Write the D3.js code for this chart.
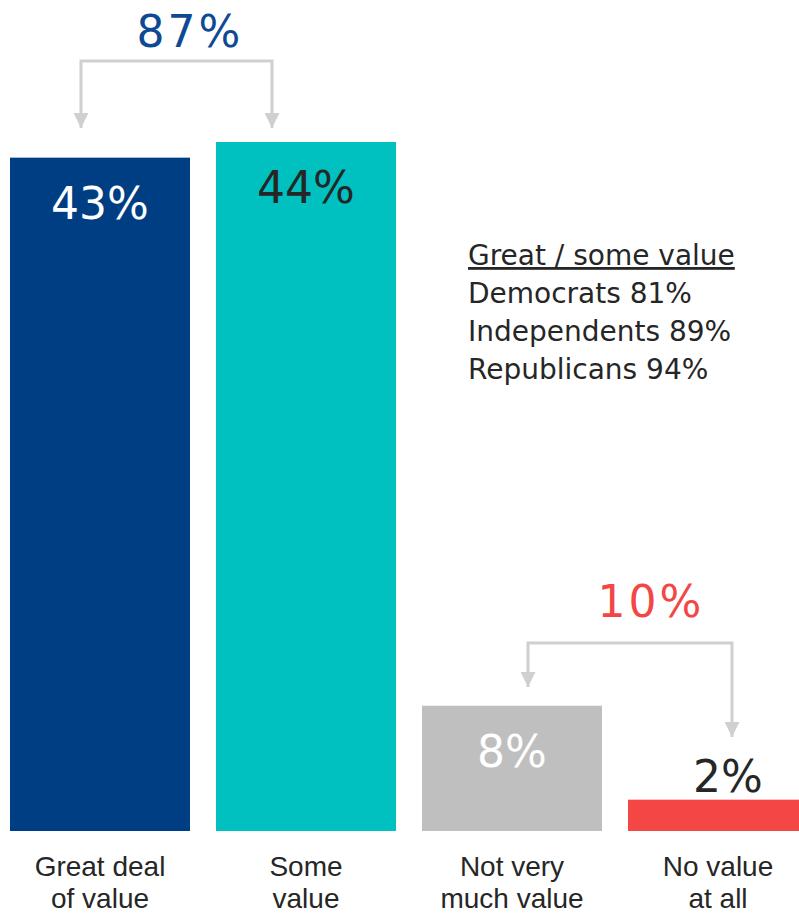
<!DOCTYPE html>
<html lang="en">
<head>
    <meta charset="utf-8">
    <title>Value chart</title>
    <style type="text/css">
        body { margin: 0; background: #fff; }
        .val { font-family: "DejaVu Sans", Verdana, sans-serif; font-size: 44px; text-anchor: middle; }
        .cat { font-family: "Liberation Sans", Arial, sans-serif; font-size: 28px; fill: #262626; text-anchor: middle; }
        .note { font-family: "DejaVu Sans", Verdana, sans-serif; font-size: 28px; fill: #262626; }
    </style>
</head>
<body>
   <svg class="chart" width="799" height="914"></svg>

   <script src="https://d3js.org/d3.v7.min.js"></script>
   <script>
        // data
        var categories = ['Great deal|of value', 'Some|value', 'Not very|much value', 'No value|at all'];
        var values = [43, 44, 8, 2];
        var barColors = ['#003e84', '#00c0c0', '#bfbfbf', '#f44645'];
        var labelColors = ['#ffffff', '#262626', '#ffffff', '#262626'];
        var groupLabels = ['87%', '10%'];
        var groupColors = ['#0e4a93', '#f44645'];
        var noteLines = ['Great / some value', 'Democrats 81%', 'Independents 89%', 'Republicans 94%'];

        var svg = d3.select('.chart'),
            baseline = 831;

        var x = d3.scaleBand()
            .domain(categories)
            .range([-3, 821])
            .paddingInner(26 / 206)
            .paddingOuter(13 / 206);

        var y = d3.scaleLinear()
            .domain([0, 44])
            .range([baseline, 142]);

        // bars
        svg.selectAll('rect.bar')
            .data(values)
            .enter()
            .append('rect')
            .attr('class', 'bar')
            .attr('x', function(d, i) { return x(categories[i]); })
            .attr('y', function(d) { return y(d); })
            .attr('width', x.bandwidth())
            .attr('height', function(d) { return baseline - y(d); })
            .style('fill', function(d, i) { return barColors[i]; });

        // value labels (inside bar, or above when the bar is short)
        svg.selectAll('text.val')
            .data(values)
            .enter()
            .append('text')
            .attr('class', 'val')
            .attr('x', function(d, i) { return x(categories[i]) + x.bandwidth() / 2 + (d < 5 ? 10 : 0); })
            .attr('y', function(d) { return d < 5 ? y(d) - 8 : y(d) + 61; })
            .style('fill', function(d, i) { return labelColors[i]; })
            .text(function(d) { return d + '%'; });

        // category labels
        var cats = svg.selectAll('text.cat')
            .data(categories)
            .enter()
            .append('text')
            .attr('class', 'cat')
            .attr('y', 876);
        cats.each(function(d) {
            var t = d3.select(this), cx = x(d) + x.bandwidth() / 2;
            d.split('|').forEach(function(line, k) {
                t.append('tspan')
                    .attr('x', cx)
                    .attr('dy', k === 0 ? 0 : 32)
                    .text(line);
            });
        });

        // brackets with arrows
        svg.append('defs').append('marker')
            .attr('id', 'arrow')
            .attr('viewBox', '0 0 10 10')
            .attr('refX', 10).attr('refY', 5)
            .attr('markerWidth', 5).attr('markerHeight', 5)
            .attr('markerUnits', 'strokeWidth')
            .attr('orient', 'auto-start-reverse')
            .append('path')
            .attr('d', 'M0,0L10,5L0,10Z')
            .style('fill', '#d0d0d0');

        var brackets = [
            {a: 0, b: 1, offA: 71, offB: 56, top: 61, endA: 128, endB: 128, lx: 190, ly: 47},
            {a: 2, b: 3, offA: 106, offB: 104, top: 643, endA: 687, endB: 737, lx: 651, ly: 617}
        ];
        brackets.forEach(function(br, i) {
            var xa = x(categories[br.a]) + br.offA,
                xb = x(categories[br.b]) + br.offB;
            svg.append('path')
                .attr('d', 'M' + xa + ',' + br.endA + 'V' + br.top + 'H' + xb + 'V' + br.endB)
                .style('fill', 'none')
                .style('stroke', '#d0d0d0')
                .style('stroke-width', 3)
                .attr('marker-start', 'url(#arrow)')
                .attr('marker-end', 'url(#arrow)');
            svg.append('text')
                .attr('class', 'val')
                .attr('x', br.lx)
                .attr('y', br.ly)
                .style('letter-spacing', '3px')
                .style('fill', groupColors[i])
                .text(groupLabels[i]);
        });

        // party note
        svg.selectAll('text.note')
            .data(noteLines)
            .enter()
            .append('text')
            .attr('class', 'note')
            .attr('x', 468)
            .attr('y', function(d, i) { return 265 + i * 38; })
            .style('text-decoration', function(d, i) { return i === 0 ? 'underline' : null; })
            .text(function(d) { return d; });
   </script>
</body>
</html>
